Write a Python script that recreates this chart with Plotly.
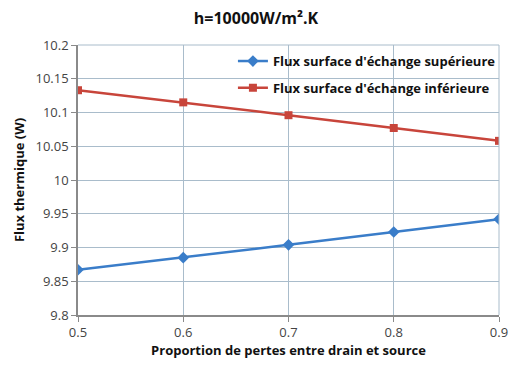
import plotly.graph_objects as go

x_vals = [0.5, 0.6, 0.7, 0.8, 0.9]
flux_sup = [9.867, 9.885, 9.904, 9.923, 9.942]
flux_inf = [10.133, 10.115, 10.096, 10.077, 10.058]
y_ticks = [9.8, 9.85, 9.9, 9.95, 10, 10.05, 10.1, 10.15, 10.2]
y_tick_labels = ["9.8", "9.85", "9.9", "9.95", "10", "10.05", "10.1", "10.15", "10.2"]
x_ticks = [0.5, 0.6, 0.7, 0.8, 0.9]

font_family = "Open Sans, Lato, sans-serif"

fig = go.Figure()
fig.add_trace(go.Scatter(
    x=x_vals, y=flux_sup, mode="lines+markers",
    name="<b>Flux surface d'échange supérieure</b>",
    line=dict(color="#3a7dc9", width=2.5),
    marker=dict(symbol="diamond", size=9, color="#3a7dc9"),
    legend="legend",
))
fig.add_trace(go.Scatter(
    x=x_vals, y=flux_inf, mode="lines+markers",
    name="<b>Flux surface d'échange inférieure</b>",
    line=dict(color="#c8453b", width=2.5),
    marker=dict(symbol="square", size=8, color="#c8453b"),
    legend="legend2",
))

leg_common = dict(xanchor="left", yanchor="top", bgcolor="rgba(255,255,255,0)",
                  font=dict(size=13, color="#111"), itemwidth=30)

fig.update_layout(
    width=512, height=365,
    margin=dict(l=78, r=13, t=45, b=50, autoexpand=False),
    paper_bgcolor="white", plot_bgcolor="white",
    font=dict(family=font_family, size=12, color="#222"),
    title=dict(text="<b>h=10000W/m².K</b>", x=0.5, xanchor="center",
               yref="container", y=1 - 18 / 365, yanchor="middle",
               font=dict(size=16, color="#111")),
    showlegend=True,
    legend=dict(x=0.368, y=0.996, **leg_common),
    legend2=dict(x=0.368, y=0.897, **leg_common),
)
fig.update_xaxes(
    range=[0.5, 0.9], tickvals=x_ticks, ticktext=[str(v) for v in x_ticks],
    showgrid=True, gridcolor="#a9bccb", gridwidth=1,
    showline=True, linecolor="#8a8a8a", linewidth=1.5,
    ticks="outside", ticklen=5, tickcolor="#8a8a8a",
    tickfont=dict(size=13, color="#444"),
    title=dict(text="<b>Proportion de pertes entre drain et source</b>", font=dict(size=13, color="#111"), standoff=6),
    zeroline=False, automargin=False,
)
fig.update_yaxes(
    range=[9.8, 10.2], tickvals=y_ticks, ticktext=y_tick_labels,
    showgrid=True, gridcolor="#a9bccb", gridwidth=1,
    showline=True, linecolor="#8a8a8a", linewidth=1.5,
    ticks="outside", ticklen=5, tickcolor="#8a8a8a",
    tickfont=dict(size=13, color="#444"),
    title=dict(text="<b>Flux thermique (W)</b>", font=dict(size=13, color="#111"), standoff=8),
    zeroline=False, automargin=False,
)
fig.add_shape(type="line", xref="paper", yref="paper", x0=1, x1=1, y0=0, y1=1,
              line=dict(color="#a9bccb", width=1))
fig.add_shape(type="line", xref="paper", yref="paper", x0=0, x1=1, y0=1, y1=1,
              line=dict(color="#a9bccb", width=1))

fig.write_html("out.html", config={"displayModeBar": False},
               post_script="document.body.style.margin='0';document.body.style.overflow='hidden';")
